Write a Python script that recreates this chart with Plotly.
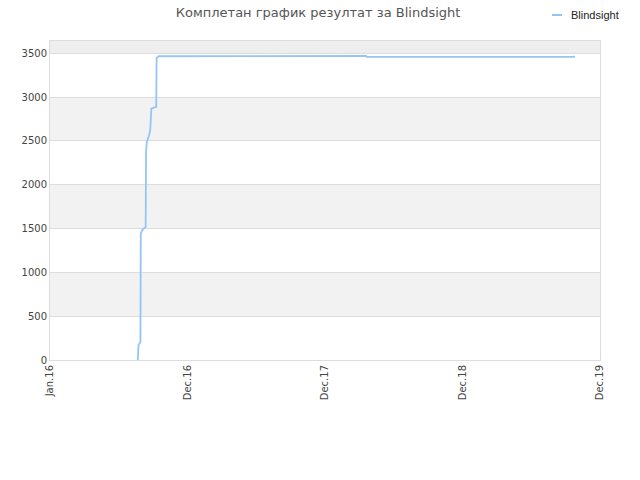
import plotly.graph_objects as go

# completed-results count for the title
dates = [
    "2016-08-21", "2016-08-22", "2016-08-23", "2016-08-28", "2016-08-29",
    "2016-09-02", "2016-09-11", "2016-09-12", "2016-09-14", "2016-09-20",
    "2016-09-23", "2016-09-26", "2016-10-02", "2016-10-09", "2016-10-10",
    "2016-10-15", "2018-04-19", "2018-04-20", "2019-10-23", "2019-10-24",
]
values = [
    0, 122, 171, 205, 1444,
    1482, 1520, 2375, 2489, 2565,
    2622, 2869, 2881, 2888, 3447,
    3466, 3470, 3459, 3459, 3472,
]

tick_dates = ["2016-01-01", "2016-12-31", "2017-12-31", "2018-12-31", "2019-12-31"]
tick_labels = ["Jan.16", "Dec.16", "Dec.17", "Dec.18", "Dec.19"]
y_ticks = [0, 500, 1000, 1500, 2000, 2500, 3000, 3500]

line_color = "#94c6f5"

fig = go.Figure()

fig.add_trace(go.Scatter(
    x=dates,
    y=values,
    mode="lines",
    name="Blindsight",
    line=dict(color=line_color, width=1.8),
    showlegend=False,
))

# alternating grey bands
for lo in range(500, 4000, 1000):
    fig.add_shape(
        type="rect", xref="paper", yref="y",
        x0=0, x1=1, y0=lo, y1=lo + 500,
        fillcolor="#f2f2f2" if lo < 3500 else "#eeeeee",
        line=dict(width=0), layer="below",
    )

# small legend in the top-right corner
fig.add_shape(
    type="line", xref="paper", yref="paper",
    x0=(552 - 50) / 550, x1=(562 - 50) / 550,
    y0=1 + 26 / 319, y1=1 + 26 / 319,
    line=dict(color=line_color, width=2),
)
fig.add_annotation(
    text="Blindsight", xref="paper", yref="paper",
    x=(569 - 50) / 550, y=1 + 26 / 319,
    xanchor="left", yanchor="middle", showarrow=False,
    font=dict(family="Liberation Sans", size=11, color="#222222"),
)

fig.update_layout(
    width=640,
    height=480,
    title=dict(
        text="Комплетан график резултат за Blindsight",
        x=0.497, xanchor="center", y=1 - 12 / 480, yanchor="middle",
        font=dict(family="DejaVu Sans", size=13, color="#555555"),
    ),
    font=dict(family="DejaVu Sans", size=10, color="#444444"),
    plot_bgcolor="white",
    paper_bgcolor="white",
    margin=dict(l=50, r=40, t=41, b=120, autoexpand=False),
    showlegend=False,
    xaxis=dict(
        range=["2016-01-01", "2019-12-31"],
        tickmode="array",
        tickvals=tick_dates,
        ticktext=tick_labels,
        tickangle=-90,
        showgrid=False,
        showline=True, linecolor="#dddddd", mirror=True,
        zeroline=False,
        ticks="",
        automargin=False,
    ),
    yaxis=dict(
        range=[0, 3640],
        tickmode="array",
        tickvals=y_ticks,
        showgrid=True, gridcolor="#dddddd",
        showline=True, linecolor="#dddddd", mirror=True,
        zeroline=False,
        ticks="",
        automargin=False,
    ),
)

fig.write_html(
    "out.html",
    config={"displayModeBar": False},
    post_script="document.body.style.margin='0';",
)
